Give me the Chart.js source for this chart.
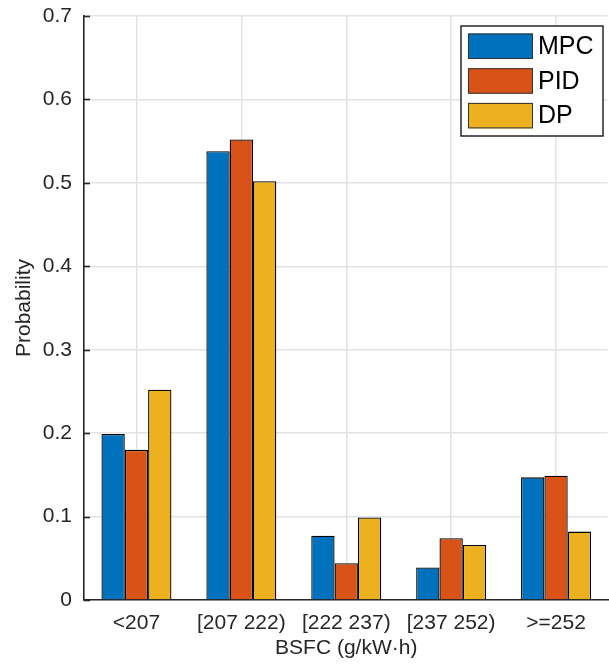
<!DOCTYPE html>
<html>
<head>
<meta charset="utf-8">
<script src="https://cdn.jsdelivr.net/npm/chart.js@4.4.1/dist/chart.umd.min.js"></script>
<style>
  html, body { margin: 0; padding: 0; background: #ffffff; overflow: hidden; }
  #wrap { width: 609px; height: 670px; overflow: hidden; }
  canvas { display: block; }
</style>
</head>
<body>
<div id="wrap"><canvas id="c" width="609" height="670"></canvas></div>
<script>
// BSFC bins and probability per controller
const categories = ['<207', '[207 222)', '[222 237)', '[237 252)', '>=252'];
const seriesNames = ['MPC', 'PID', 'DP'];
const mpcValues = [0.199, 0.538, 0.077, 0.039, 0.147];
const pidValues = [0.180, 0.552, 0.044, 0.074, 0.149];
const dpValues  = [0.252, 0.502, 0.099, 0.066, 0.082];
const yTicks = [0, 0.1, 0.2, 0.3, 0.4, 0.5, 0.6, 0.7];

const colors = ['#0072BD', '#D95319', '#EDB120'];
const axisColor = '#262626';
const gridColor = '#e3e3e3';
const fontFamily = '"Liberation Sans", Arial, Helvetica, sans-serif';

// Open right side of the axes box: blank the edge column after the grid is drawn
const openRight = {
  id: 'openRight',
  beforeDatasetsDraw(chart) {
    const ctx = chart.ctx;
    const a = chart.chartArea;
    ctx.save();
    ctx.fillStyle = '#ffffff';
    ctx.fillRect(a.right - 1, a.top - 2, chart.width - a.right + 2, a.bottom - a.top + 1);
    ctx.restore();
  }
};

// Small inward tick marks on the y axis
const innerTicks = {
  id: 'innerTicks',
  afterDraw(chart) {
    const ctx = chart.ctx;
    const y = chart.scales.y;
    const left = chart.chartArea.left;
    ctx.save();
    ctx.strokeStyle = axisColor;
    ctx.lineWidth = 1.6;
    yTicks.forEach(v => {
      const py = Math.round(y.getPixelForValue(v)) + 0.5;
      ctx.beginPath();
      ctx.moveTo(left, py);
      ctx.lineTo(left + 6, py);
      ctx.stroke();
    });
    ctx.restore();
  }
};

// Boxed legend in the upper right corner of the plot area
const boxLegend = {
  id: 'boxLegend',
  afterDraw(chart) {
    const ctx = chart.ctx;
    const area = chart.chartArea;
    const boxRight = area.right - 5.5;
    const boxLeft = boxRight - 142;
    const boxTop = area.top + 10;
    const boxH = 110;
    ctx.save();
    ctx.fillStyle = '#ffffff';
    ctx.fillRect(boxLeft, boxTop, boxRight - boxLeft, boxH);
    ctx.strokeStyle = axisColor;
    ctx.lineWidth = 1.5;
    ctx.strokeRect(boxLeft, boxTop, boxRight - boxLeft, boxH);
    ctx.font = '25px ' + fontFamily;
    ctx.textBaseline = 'middle';
    ctx.textAlign = 'left';
    chart.data.datasets.forEach((ds, i) => {
      const sy = boxTop + 7.5 + i * 34.7;
      const sx = boxLeft + 7;
      ctx.fillStyle = ds.backgroundColor;
      ctx.fillRect(sx, sy, 65, 25.5);
      ctx.strokeStyle = '#333333';
      ctx.lineWidth = 1;
      ctx.strokeRect(sx + 0.5, sy + 0.5, 64, 24.5);
      ctx.fillStyle = '#000000';
      ctx.fillText(ds.label, sx + 70, sy + 13.5);
    });
    ctx.restore();
  }
};

const seriesValues = [mpcValues, pidValues, dpValues];

new Chart(document.getElementById('c'), {
  type: 'bar',
  data: {
    labels: categories,
    datasets: seriesNames.map((name, i) => ({
      label: name,
      data: seriesValues[i],
      backgroundColor: colors[i],
      borderColor: '#000000',
      borderWidth: 1.3,
      categoryPercentage: 0.667,
      barPercentage: 1.0
    }))
  },
  options: {
    responsive: false,
    devicePixelRatio: 1,
    animation: false,
    layout: { padding: { top: 16, right: 0.5, left: 0, bottom: 0 } },
    plugins: {
      legend: { display: false },
      tooltip: { enabled: false }
    },
    scales: {
      x: {
        offset: true,
        grid: {
          offset: false,
          color: gridColor,
          lineWidth: 1.5,
          drawTicks: false
        },
        border: { display: true, color: axisColor, width: 1.6 },
        ticks: {
          color: axisColor,
          font: { family: fontFamily, size: 21 },
          padding: 11,
          maxRotation: 0,
          autoSkip: false
        },
        title: {
          display: true,
          text: 'BSFC (g/kW·h)',
          color: axisColor,
          font: { family: fontFamily, size: 21 },
          padding: { top: 0, bottom: 9 }
        },
        afterFit(scale) {
          scale.height = 70;
          scale.paddingLeft = 0;
          scale.paddingRight = 0;
        }
      },
      y: {
        min: 0,
        max: 0.7,
        afterBuildTicks(scale) { scale.ticks = yTicks.map(v => ({ value: v })); },
        grid: { color: gridColor, lineWidth: 1.5, drawTicks: false },
        border: { display: true, color: axisColor, width: 1.6 },
        ticks: {
          color: axisColor,
          font: { family: fontFamily, size: 21 },
          padding: 12,
          callback: v => (v === 0 ? '0' : Number(v).toFixed(1))
        },
        title: {
          display: true,
          text: 'Probability',
          color: axisColor,
          font: { family: fontFamily, size: 21 },
          padding: { top: 12, bottom: 0 }
        },
        afterFit(scale) {
          scale.width = 84;
          scale.paddingTop = 0;
          scale.paddingBottom = 0;
        }
      }
    }
  },
  plugins: [openRight, innerTicks, boxLegend]
});
</script>
</body>
</html>
